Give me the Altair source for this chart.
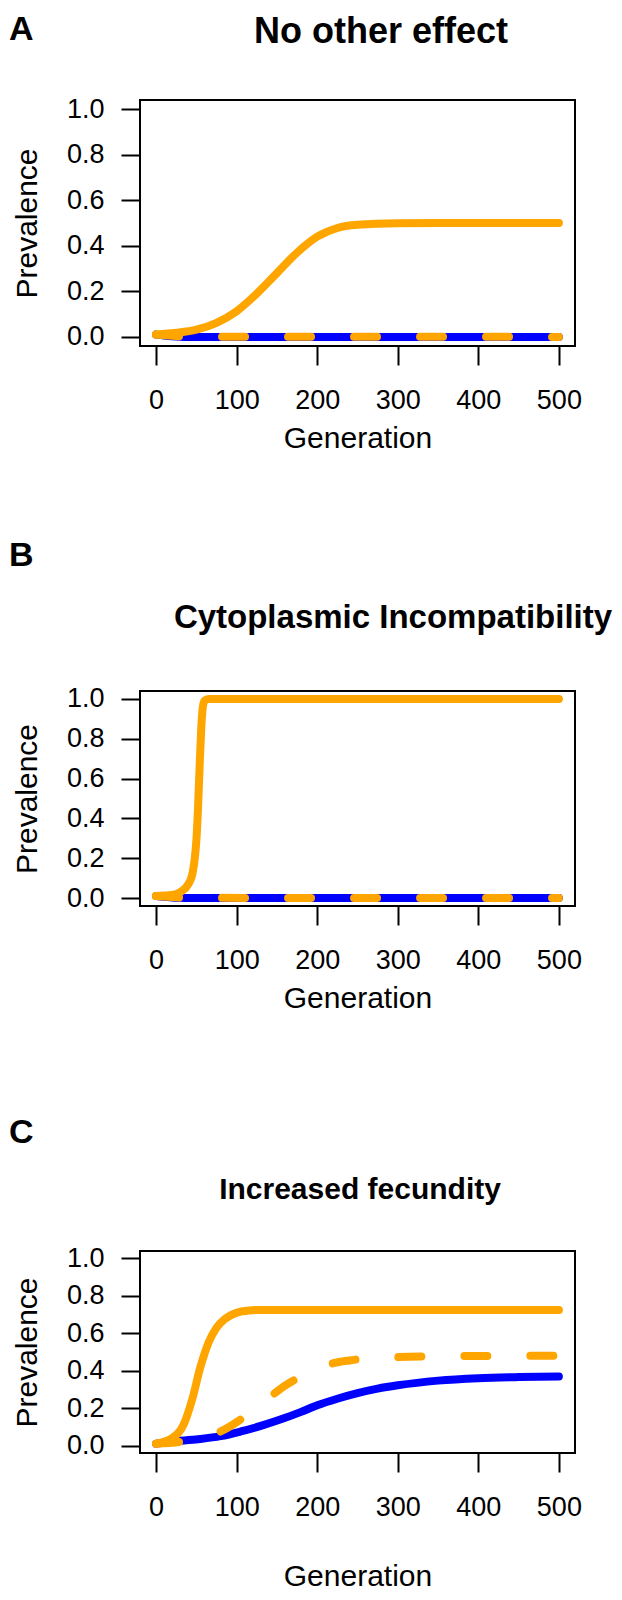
import altair as alt
import pandas as pd

# ---------------- data ----------------
panel_letters = ["A", "B", "C"]
panel_titles = ["No other effect", "Cytoplasmic Incompatibility", "Increased fecundity"]

# Panel A
a_blue_gen = [0, 10, 20, 30, 40, 500]
a_blue_val = [0.01, 0.006, 0.003, 0.001, 0.0, 0.0]
a_orange_gen = [0, 25, 50, 75, 100, 125, 150, 175, 200, 225, 250, 300, 350, 400, 450, 500]
a_orange_val = [0.01, 0.018, 0.032, 0.062, 0.113, 0.19, 0.28, 0.37, 0.44, 0.478, 0.492, 0.499, 0.5, 0.5, 0.5, 0.5]
a_dash_gen = [0, 20, 40, 500]
a_dash_val = [0.01, 0.005, 0.001, 0.0]

# Panel B
b_blue_gen = [0, 10, 20, 30, 40, 500]
b_blue_val = [0.01, 0.006, 0.003, 0.001, 0.0, 0.0]
b_orange_gen = [0, 20, 30, 40, 45, 48, 50, 52, 54, 56, 58, 60, 65, 500]
b_orange_val = [0.01, 0.015, 0.03, 0.07, 0.12, 0.2, 0.29, 0.45, 0.66, 0.85, 0.96, 0.99, 1.0, 1.0]
b_dash_gen = [0, 20, 40, 500]
b_dash_val = [0.01, 0.005, 0.001, 0.0]

# Panel C
c_blue_gen = [0, 30, 55, 80, 105, 130, 155, 180, 200, 225, 250, 275, 300, 350, 400, 450, 500]
c_blue_val = [0.01, 0.025, 0.035, 0.05, 0.075, 0.105, 0.14, 0.18, 0.215, 0.25, 0.28, 0.304, 0.322, 0.347, 0.36, 0.366, 0.369]
c_orange_gen = [0, 20, 35, 45, 55, 65, 75, 85, 100, 115, 130, 500]
c_orange_val = [0.01, 0.04, 0.12, 0.25, 0.42, 0.55, 0.63, 0.675, 0.71, 0.722, 0.725, 0.725]
c_dash_gen = [0, 30, 60, 80, 100, 120, 140, 160, 180, 200, 220, 240, 260, 300, 350, 400, 500]
c_dash_val = [0.01, 0.02, 0.045, 0.075, 0.125, 0.19, 0.255, 0.32, 0.37, 0.41, 0.44, 0.455, 0.465, 0.473, 0.477, 0.479, 0.48]

x_ticks = [0, 100, 200, 300, 400, 500]
y_ticks = [0.0, 0.2, 0.4, 0.6, 0.8, 1.0]

FONT = "Liberation Sans, Arial, Helvetica, sans-serif"
BLUE = "#0000FF"
ORANGE = "#FFA500"
W = 435


def panel(letter, title, blue, orange, dash, height, xtitle_pad, letter_y,
          title_x, title_y, title_size):
    x = alt.X("gen:Q",
              scale=alt.Scale(domain=[-20, 520], nice=False, zero=False),
              axis=alt.Axis(values=x_ticks, title="Generation", format="d",
                            labelPadding=22, titlePadding=xtitle_pad))
    y = alt.Y("val:Q",
              scale=alt.Scale(domain=[-0.04, 1.04], nice=False, zero=False),
              axis=alt.Axis(values=y_ticks, title="Prevalence", format=".1f",
                            labelPadding=17, titlePadding=24))
    df_b = pd.DataFrame({"gen": blue[0], "val": blue[1]})
    df_o = pd.DataFrame({"gen": orange[0], "val": orange[1]})
    df_d = pd.DataFrame({"gen": dash[0], "val": dash[1]})
    lb = alt.Chart(df_b).mark_line(color=BLUE, strokeWidth=8, strokeCap="round",
                                   interpolate="monotone").encode(x=x, y=y)
    lo = alt.Chart(df_o).mark_line(color=ORANGE, strokeWidth=8, strokeCap="round",
                                   interpolate="monotone").encode(x=x, y=y)
    ld = alt.Chart(df_d).mark_line(color=ORANGE, strokeWidth=8, strokeCap="round",
                                   strokeDash=[23, 43],
                                   interpolate="monotone").encode(x=x, y=y)
    lab = pd.DataFrame({"letter": [letter], "title": [title]})
    t_letter = alt.Chart(lab).mark_text(align="left", baseline="top", fontSize=34,
                                        fontWeight="bold", font=FONT, color="black").encode(
        x=alt.value(-131), y=alt.value(letter_y), text="letter:N")
    t_title = alt.Chart(lab).mark_text(align="center", baseline="middle", fontSize=title_size,
                                       fontWeight="bold", font=FONT, color="black").encode(
        x=alt.value(title_x), y=alt.value(title_y), text="title:N")
    return alt.layer(lb, lo, ld, t_letter, t_title).properties(width=W, height=height)


pA = panel(panel_letters[0], panel_titles[0], (a_blue_gen, a_blue_val),
           (a_orange_gen, a_orange_val), (a_dash_gen, a_dash_val),
           246, 10, -87, 241, -68, 36)
pB = panel(panel_letters[1], panel_titles[1], (b_blue_gen, b_blue_val),
           (b_orange_gen, b_orange_val), (b_dash_gen, b_dash_val),
           215, 10, -152, 253, -73, 33)
pC = panel(panel_letters[2], panel_titles[2], (c_blue_gen, c_blue_val),
           (c_orange_gen, c_orange_val), (c_dash_gen, c_dash_val),
           202, 41, -135, 220, -61, 30)

chart = alt.vconcat(pA, pB, pC, spacing=345, bounds="flush").properties(
    padding={"top": 4, "left": 0, "right": 0, "bottom": 0}
).configure_view(
    stroke="black", strokeWidth=2
).configure_axis(
    domain=False, grid=False, tickColor="black", tickWidth=2, tickSize=19,
    labelFont=FONT, labelFontSize=27, labelColor="black",
    titleFont=FONT, titleFontSize=30, titleFontWeight="normal", titleColor="black",
    labelFlush=False, labelOverlap=False
)

chart.save("out.html", embed_options={"renderer": "svg", "actions": False})
